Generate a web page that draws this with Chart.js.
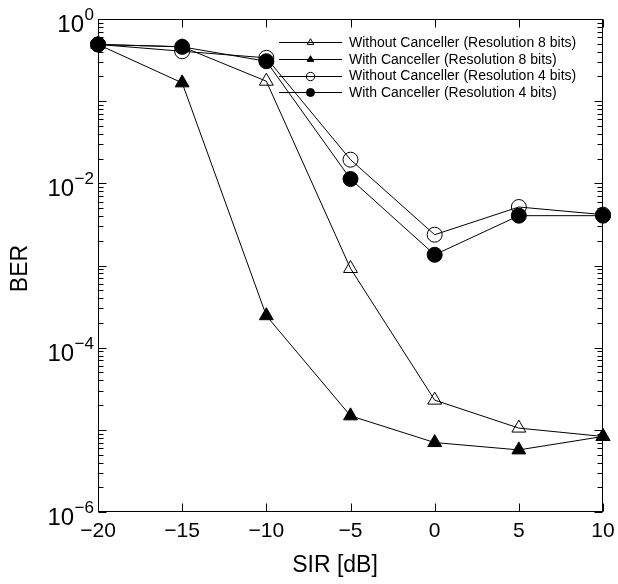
<!DOCTYPE html>
<html><head><meta charset="utf-8">
<script src="https://cdn.jsdelivr.net/npm/chart.js@4/dist/chart.umd.min.js"></script>
<style>html,body{margin:0;padding:0;background:#fff}#wrap{width:618px;height:584px}</style>
</head><body><div id="wrap"><canvas id="c" width="618" height="584"></canvas></div>
<script>
// ---- data ----
const sir = [-20, -15, -10, -5, 0, 5, 10];
const berWithoutCanceller8 = [0.49, 0.46, 0.175, 9.2e-4, 2.3e-5, 1.05e-5, 8.3e-6];
const berWithCanceller8    = [0.49, 0.167, 2.45e-4, 1.48e-5, 7.0e-6, 5.7e-6, 8.3e-6];
const berWithoutCanceller4 = [0.49, 0.405, 0.337, 0.0194, 0.00237, 0.00515, 0.00416];
const berWithCanceller4    = [0.49, 0.458, 0.306, 0.0113, 0.00135, 0.00404, 0.00404];
const seriesNames = [
  'Without Canceller (Resolution 8 bits)',
  'With Canceller (Resolution 8 bits)',
  'Without Canceller (Resolution 4 bits)',
  'With Canceller (Resolution 4 bits)'
];
const xTickValues = [-20, -15, -10, -5, 0, 5, 10];
const yLabelExponents = [0, -2, -4, -6];
const xTitle = 'SIR [dB]';
const yTitle = 'BER';

const FONT = '"Liberation Sans", Arial, Helvetica, sans-serif';
const pts = arr => sir.map((x, i) => ({x, y: arr[i]}));

const styles = [
  {pointStyle: 'triangle', fill: false, r: 8, lr: 3.8},
  {pointStyle: 'triangle', fill: true,  r: 8, lr: 3.8},
  {pointStyle: 'circle',   fill: false, r: 7.5, lr: 4.2},
  {pointStyle: 'circle',   fill: true,  r: 7.5, lr: 4.0}
];
const seriesData = [berWithoutCanceller8, berWithCanceller8, berWithoutCanceller4, berWithCanceller4];

const datasets = seriesData.map((arr, i) => ({
  label: seriesNames[i],
  data: pts(arr),
  borderColor: '#000',
  borderWidth: 1,
  pointStyle: styles[i].pointStyle,
  pointRadius: styles[i].r,
  pointBorderWidth: 1,
  pointBorderColor: '#000',
  pointBackgroundColor: styles[i].fill ? '#000' : 'rgba(0,0,0,0)',
  fill: false,
  tension: 0,
  clip: false,
  order: 3 - i
}));

function marker(ctx, style, fill, r, x, y) {
  ctx.beginPath();
  if (style === 'circle') {
    ctx.arc(x, y, r, 0, Math.PI * 2);
  } else {
    let rad = -Math.PI / 2;
    ctx.moveTo(x + Math.cos(rad) * r, y + Math.sin(rad) * r);
    rad += 2 * Math.PI / 3;
    ctx.lineTo(x + Math.cos(rad) * r, y + Math.sin(rad) * r);
    rad += 2 * Math.PI / 3;
    ctx.lineTo(x + Math.cos(rad) * r, y + Math.sin(rad) * r);
    ctx.closePath();
  }
  if (fill) { ctx.fillStyle = '#000'; ctx.fill(); }
  ctx.strokeStyle = '#000'; ctx.lineWidth = 1; ctx.stroke();
}

const decor = {
  id: 'decor',
  afterDatasetsDraw(chart) {
    const {ctx, chartArea: a, scales: {x, y}} = chart;
    ctx.save();
    ctx.strokeStyle = '#000';
    ctx.lineWidth = 1;
    const L = Math.round(a.left) + 0.5, R = Math.round(a.right) - 0.5;
    const T = Math.round(a.top) + 0.5, B = Math.round(a.bottom) - 0.5;
    ctx.strokeRect(L, T, R - L, B - T);
    ctx.beginPath();
    xTickValues.forEach(v => {
      const px = Math.round(x.getPixelForValue(v)) + 0.5;
      ctx.moveTo(px, B); ctx.lineTo(px, B - 8);
      ctx.moveTo(px, T); ctx.lineTo(px, T + 8);
    });
    for (let e = -6; e <= 0; e++) {
      const py = Math.round(y.getPixelForValue(Math.pow(10, e))) + 0.5;
      ctx.moveTo(L, py); ctx.lineTo(L + 8, py);
      ctx.moveTo(R, py); ctx.lineTo(R - 8, py);
      if (e < 0) {
        for (let m = 2; m <= 9; m++) {
          const pm = Math.round(y.getPixelForValue(m * Math.pow(10, e))) + 0.5;
          ctx.moveTo(L, pm); ctx.lineTo(L + 5, pm);
          ctx.moveTo(R, pm); ctx.lineTo(R - 5, pm);
        }
      }
    }
    ctx.stroke();

    // y tick labels 10^e
    ctx.fillStyle = '#000';
    ctx.textBaseline = 'alphabetic';
    yLabelExponents.forEach(e => {
      const ty = y.getPixelForValue(Math.pow(10, e));
      const expTxt = e < 0 ? '\u2212' + (-e) : String(e);
      ctx.font = '17px ' + FONT;
      ctx.textAlign = 'right';
      const xr = a.left - 4;
      ctx.fillText(expTxt, xr, ty + 1);
      const w = ctx.measureText(expTxt).width;
      ctx.font = '24px ' + FONT;
      ctx.fillText('10', xr - w - 0.5, ty + 13);
    });

    // axis titles
    ctx.font = '23px ' + FONT;
    ctx.textAlign = 'center';
    ctx.fillText(xTitle, 335, 572);
    ctx.save();
    ctx.translate(27, 268.5);
    ctx.rotate(-Math.PI / 2);
    ctx.textAlign = 'center';
    ctx.fillText(yTitle, 0, 0);
    ctx.restore();

    // legend
    const rowsY = [42, 59, 75.5, 92];
    ctx.font = '14px ' + FONT;
    ctx.textAlign = 'left';
    ctx.textBaseline = 'middle';
    chart.data.datasets.forEach((ds, i) => {
      const ly = rowsY[i];
      ctx.beginPath();
      ctx.moveTo(279, Math.round(ly) + 0.5); ctx.lineTo(342, Math.round(ly) + 0.5);
      ctx.strokeStyle = '#000'; ctx.lineWidth = 1; ctx.stroke();
      marker(ctx, styles[i].pointStyle, styles[i].fill, styles[i].lr, 310.5, Math.round(ly) + 0.5);
      ctx.fillStyle = '#000';
      ctx.fillText(ds.label, 349, ly + 1);
    });
    ctx.restore();
  }
};

new Chart(document.getElementById('c'), {
  type: 'line',
  data: {datasets},
  options: {
    responsive: false,
    animation: false,
    devicePixelRatio: 1,
    layout: {padding: {left: 98, right: 15, top: 19, bottom: 0}},
    plugins: {legend: {display: false}, tooltip: {enabled: false}},
    scales: {
      x: {
        type: 'linear', min: -20, max: 10,
        afterBuildTicks(s) { s.ticks = xTickValues.map(v => ({value: v})); },
        afterFit(s) { s.height = 72; s.paddingLeft = 0; s.paddingRight = 0; },
        grid: {display: false, drawTicks: false},
        border: {display: false},
        ticks: {
          autoSkip: false, maxRotation: 0, padding: 7, color: '#000',
          font: {family: FONT, size: 21},
          callback: v => String(v).replace('-', '\u2212')
        }
      },
      y: {
        type: 'logarithmic', min: 1e-6, max: 1,
        display: false
      }
    }
  },
  plugins: [decor]
});
</script>
</body></html>
